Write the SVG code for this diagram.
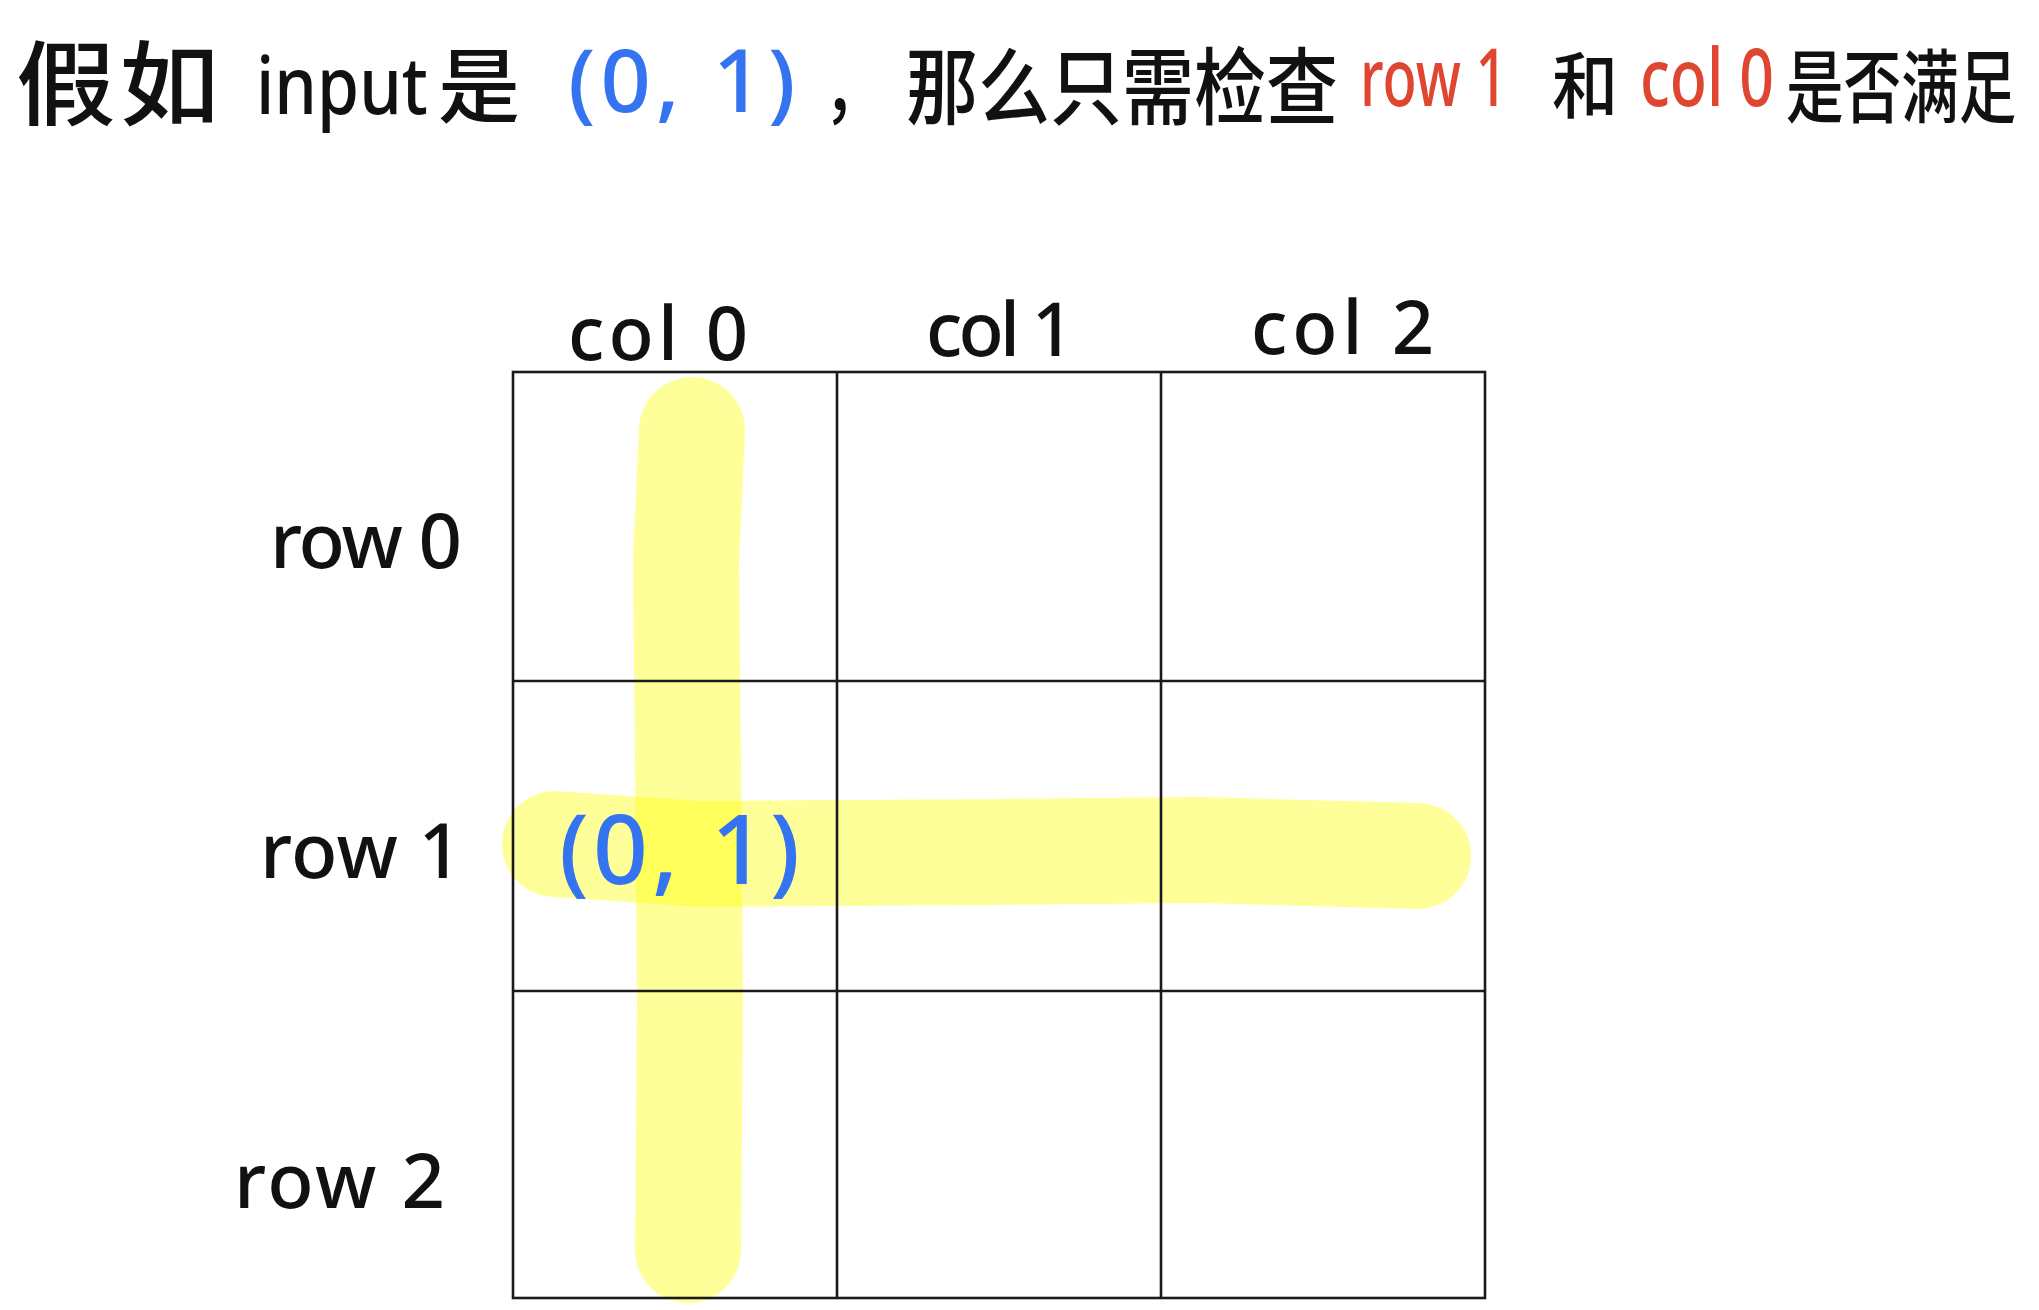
<svg xmlns="http://www.w3.org/2000/svg" width="2039" height="1310" viewBox="0 0 2039 1310">
<style>
.t{font-family:"Noto Sans","Noto Sans CJK SC",sans-serif;font-weight:500;fill:#111}
.cjk{font-family:"Noto Sans CJK SC","Noto Sans",sans-serif;font-weight:500;fill:#111}
.blue{fill:#3474f0}
.red{fill:#de4631}
.hl{fill:none;stroke:#ffff00;stroke-opacity:0.4;stroke-width:106;stroke-linecap:round;stroke-linejoin:round}
.grid{stroke:#1a1a1a;stroke-width:2.6;fill:none}
</style>
<rect width="2039" height="1310" fill="#ffffff"/>
<g id="title">
<text class="cjk" transform="translate(16,118) scale(1.08,1)" font-size="92" letter-spacing="4">假如</text>
<text class="t" transform="translate(256,114) scale(0.85,1)" font-size="80">input</text>
<text class="cjk" x="438" y="116" font-size="82">是</text>
<text class="t blue" x="568" y="112" font-size="88" letter-spacing="5">(0, 1)</text>
<text class="cjk" transform="translate(824,116) scale(0.8,1)" font-size="76">，</text>
<text class="cjk" transform="translate(906,118) scale(0.857,1)" font-size="84">那么只需检查</text>
<text class="t red" transform="translate(1360,106) scale(0.7,1)" font-size="80">row 1</text>
<text class="cjk" transform="translate(1552,112) scale(0.92,1)" font-size="72">和</text>
<text class="t red" transform="translate(1640,106) scale(0.76,1)" font-size="80">col 0</text>
<text class="cjk" transform="translate(1786,116) scale(0.72,1)" font-size="80">是否满足</text>
</g>
<g id="highlights">
<path class="hl" d="M692,430 L686,560 L688,760 L690,1000 L688,1250"/>
<path class="hl" d="M555,844 L700,854 L1000,852 L1200,850 L1418,856"/>
</g>
<g id="grid">
<rect class="grid" x="513" y="372" width="972" height="926"/>
<line class="grid" x1="837" y1="372" x2="837" y2="1298"/>
<line class="grid" x1="1161" y1="372" x2="1161" y2="1298"/>
<line class="grid" x1="513" y1="681" x2="1485" y2="681"/>
<line class="grid" x1="513" y1="991" x2="1485" y2="991"/>
</g>
<g id="col-labels">
<text class="t" x="568" y="360" font-size="74" textLength="180" lengthAdjust="spacing">col 0</text>
<text class="t" x="926" y="356" font-size="74" textLength="148" lengthAdjust="spacing">col 1</text>
<text class="t" x="1251" y="354" font-size="74" textLength="183" lengthAdjust="spacing">col 2</text>
</g>
<g id="row-labels">
<text class="t" x="270" y="568" font-size="76" textLength="192" lengthAdjust="spacing">row 0</text>
<text class="t" x="260" y="878" font-size="76" textLength="202" lengthAdjust="spacing">row 1</text>
<text class="t" x="234" y="1208" font-size="76" textLength="211" lengthAdjust="spacing">row 2</text>
</g>
<g id="cell-label">
<text class="t blue" x="559" y="884" font-size="96" textLength="241" lengthAdjust="spacing">(0, 1)</text>
</g>
</svg>
